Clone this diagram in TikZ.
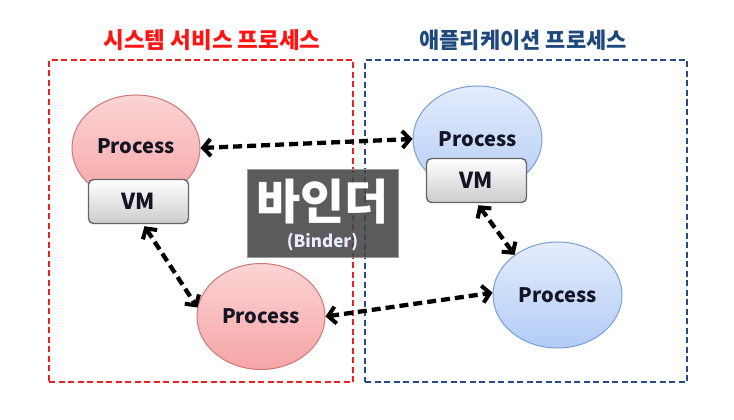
\documentclass[tikz,border=0pt]{standalone}
\usepackage{fontspec}
\setmainfont{Noto Sans CJK KR}
\usetikzlibrary{shapes.geometric,arrows.meta}
\definecolor{redline}{RGB}{240,30,30}
\definecolor{blueline}{RGB}{40,75,135}
\definecolor{titlered}{RGB}{255,20,20}
\definecolor{titleblue}{RGB}{31,73,125}
\definecolor{pinkT}{RGB}{252,212,212}
\definecolor{pinkB}{RGB}{246,165,167}
\definecolor{pinkE}{RGB}{205,120,120}
\definecolor{blueT}{RGB}{228,236,252}
\definecolor{blueB}{RGB}{178,204,245}
\definecolor{blueE}{RGB}{120,160,215}
\definecolor{binderbg}{RGB}{68,68,68}
\definecolor{txt}{RGB}{20,20,35}
\tikzset{
  procR/.style={ellipse, draw=pinkE, line width=1pt, top color=pinkT, bottom color=pinkB,
     minimum width=128pt, minimum height=106pt, inner sep=0pt, text=txt, font=\bfseries\fontsize{20}{22}\selectfont},
  procB/.style={ellipse, draw=blueE, line width=1pt, top color=blueT, bottom color=blueB,
     minimum width=129pt, minimum height=106pt, inner sep=0pt, text=txt, font=\bfseries\fontsize{20}{22}\selectfont},
  vmbox/.style={rectangle, rounded corners=5pt, draw=black!60, line width=1.4pt,
     top color=white, bottom color=black!20, minimum width=100pt, minimum height=44pt,
     inner sep=0pt, text=txt, font=\bfseries\fontsize{22}{24}\selectfont},
  groupR/.style={draw=redline, line width=2.5pt, dash pattern=on 6pt off 3.5pt},
  groupB/.style={draw=blueline, line width=2.5pt, dash pattern=on 6pt off 3.5pt},
  arr/.style={draw=black, line width=4.3pt, dash pattern=on 9pt off 5pt,
     {Straight Barb[length=7.5pt,width=17pt,line width=4pt]}-{Straight Barb[length=7.5pt,width=17pt,line width=4pt]}},
}
\begin{document}
\begin{tikzpicture}[x=1pt,y=-1pt]
\useasboundingbox (0,0) rectangle (734,420);
% group boxes
\node[groupR, rectangle, minimum width=304pt, minimum height=322pt, inner sep=0pt] (gR) at (201,221) {};
\node[groupB, rectangle, minimum width=322pt, minimum height=322pt, inner sep=0pt] (gB) at (526,221) {};
% titles
\node[text=titlered, font=\bfseries\fontsize{22.5}{24}\selectfont] (tR) at (212,40) {시스템 서비스 프로세스};
\node[text=titleblue, font=\bfseries\fontsize{22}{24}\selectfont] (tB) at (523,40) {애플리케이션 프로세스};
% binder
\node[rectangle, fill=binderbg, fill opacity=0.88, draw=black!40, line width=0.6pt,
      minimum width=151pt, minimum height=88pt, inner sep=0pt] (binder) at (322.5,213) {};
\node[text=white, font=\bfseries\fontsize{48}{50}\selectfont] (bk) at (322.5,202) {바인더};
\node[text=blue!8!white, font=\bfseries\fontsize{17}{19}\selectfont] (be) at (322.5,242) {(Binder)};
% processes
\node[procR] (p1) at (136,148) {};
\node[procB] (p2) at (477.5,139) {};
\node[procR] (p3) at (261,316.5) {Process};
\node[procB] (p4) at (557.5,295) {Process};
\node[text=txt, font=\bfseries\fontsize{20}{22}\selectfont] (p1t) at (136,146) {Process};
\node[text=txt, font=\bfseries\fontsize{20}{22}\selectfont] (p2t) at (477.5,139) {Process};
\node[vmbox] (vm1) at (138.5,201.5) {VM};
\node[vmbox] (vm2) at (476.5,180.5) {VM};
% connectors
\draw[arr] (p1.east) -- (p2.west);
\draw[arr] ([xshift=6pt,yshift=-2pt]vm1.south) -- (p3.172);
\draw[arr] (p3.east) -- (p4.178);
\draw[arr] ([xshift=2pt,yshift=-2pt]vm2.south) -- (p4.137);
\end{tikzpicture}
\end{document}
